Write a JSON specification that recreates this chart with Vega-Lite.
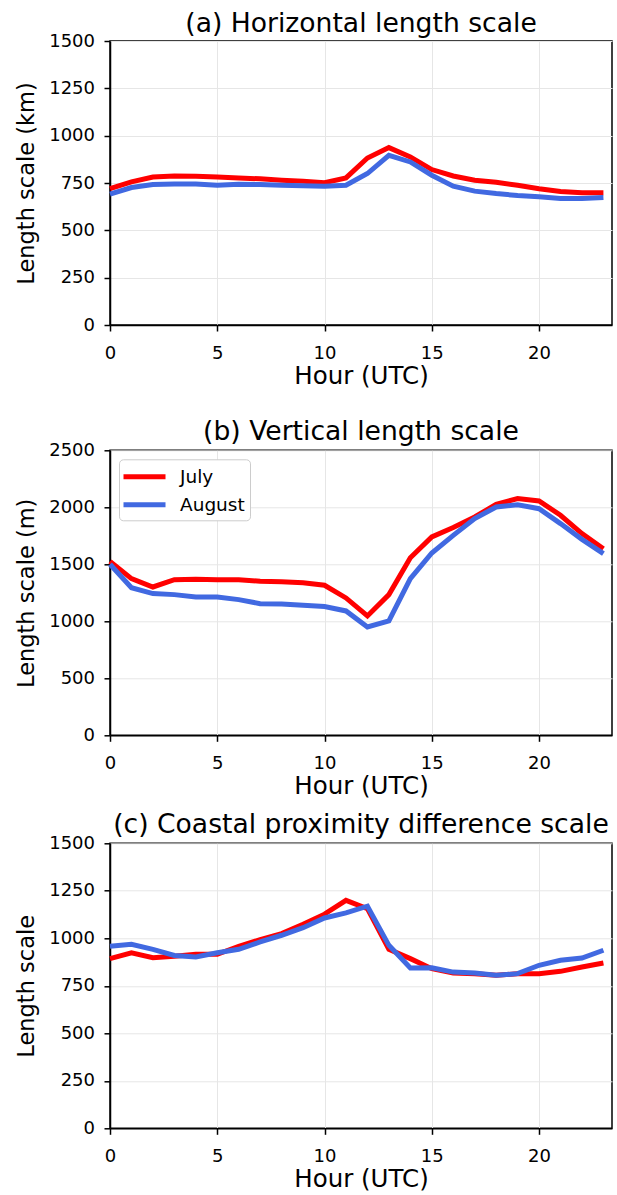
{
  "$schema": "https://vega.github.io/schema/vega-lite/v6.json",
  "padding": {"left": 14, "top": 10, "right": 0, "bottom": 0},
  "datasets": {
    "a": [
      {"hour":0,"month":"July","value":720},{"hour":1,"month":"July","value":756},{"hour":2,"month":"July","value":782},{"hour":3,"month":"July","value":787},{"hour":4,"month":"July","value":786},{"hour":5,"month":"July","value":782},{"hour":6,"month":"July","value":777},{"hour":7,"month":"July","value":772},{"hour":8,"month":"July","value":765},{"hour":9,"month":"July","value":759},{"hour":10,"month":"July","value":752},{"hour":11,"month":"July","value":777},{"hour":12,"month":"July","value":882},{"hour":13,"month":"July","value":937},{"hour":14,"month":"July","value":888},{"hour":15,"month":"July","value":821},{"hour":16,"month":"July","value":787},{"hour":17,"month":"July","value":765},{"hour":18,"month":"July","value":754},{"hour":19,"month":"July","value":738},{"hour":20,"month":"July","value":720},{"hour":21,"month":"July","value":705},{"hour":22,"month":"July","value":698},{"hour":23,"month":"July","value":698},
      {"hour":0,"month":"August","value":691},{"hour":1,"month":"August","value":726},{"hour":2,"month":"August","value":742},{"hour":3,"month":"August","value":745},{"hour":4,"month":"August","value":745},{"hour":5,"month":"August","value":738},{"hour":6,"month":"August","value":743},{"hour":7,"month":"August","value":742},{"hour":8,"month":"August","value":738},{"hour":9,"month":"August","value":736},{"hour":10,"month":"August","value":733},{"hour":11,"month":"August","value":738},{"hour":12,"month":"August","value":800},{"hour":13,"month":"August","value":896},{"hour":14,"month":"August","value":861},{"hour":15,"month":"August","value":791},{"hour":16,"month":"August","value":733},{"hour":17,"month":"August","value":707},{"hour":18,"month":"August","value":694},{"hour":19,"month":"August","value":684},{"hour":20,"month":"August","value":677},{"hour":21,"month":"August","value":668},{"hour":22,"month":"August","value":668},{"hour":23,"month":"August","value":673}
    ],
    "b": [
      {"hour":0,"month":"July","value":1526},{"hour":1,"month":"July","value":1374},{"hour":2,"month":"July","value":1301},{"hour":3,"month":"July","value":1365},{"hour":4,"month":"July","value":1368},{"hour":5,"month":"July","value":1365},{"hour":6,"month":"July","value":1365},{"hour":7,"month":"July","value":1351},{"hour":8,"month":"July","value":1348},{"hour":9,"month":"July","value":1339},{"hour":10,"month":"July","value":1316},{"hour":11,"month":"July","value":1205},{"hour":12,"month":"July","value":1047},{"hour":13,"month":"July","value":1234},{"hour":14,"month":"July","value":1558},{"hour":15,"month":"July","value":1740},{"hour":16,"month":"July","value":1822},{"hour":17,"month":"July","value":1915},{"hour":18,"month":"July","value":2026},{"hour":19,"month":"July","value":2076},{"hour":20,"month":"July","value":2056},{"hour":21,"month":"July","value":1930},{"hour":22,"month":"July","value":1769},{"hour":23,"month":"July","value":1637},
      {"hour":0,"month":"August","value":1500},{"hour":1,"month":"August","value":1295},{"hour":2,"month":"August","value":1243},{"hour":3,"month":"August","value":1234},{"hour":4,"month":"August","value":1213},{"hour":5,"month":"August","value":1213},{"hour":6,"month":"August","value":1190},{"hour":7,"month":"August","value":1155},{"hour":8,"month":"August","value":1152},{"hour":9,"month":"August","value":1140},{"hour":10,"month":"August","value":1129},{"hour":11,"month":"August","value":1091},{"hour":12,"month":"August","value":950},{"hour":13,"month":"August","value":1003},{"hour":14,"month":"August","value":1374},{"hour":15,"month":"August","value":1599},{"hour":16,"month":"August","value":1754},{"hour":17,"month":"August","value":1901},{"hour":18,"month":"August","value":2003},{"hour":19,"month":"August","value":2023},{"hour":20,"month":"August","value":1988},{"hour":21,"month":"August","value":1857},{"hour":22,"month":"August","value":1719},{"hour":23,"month":"August","value":1594}
    ],
    "c": [
      {"hour":0,"month":"July","value":893},{"hour":1,"month":"July","value":923},{"hour":2,"month":"July","value":898},{"hour":3,"month":"July","value":905},{"hour":4,"month":"July","value":916},{"hour":5,"month":"July","value":916},{"hour":6,"month":"July","value":958},{"hour":7,"month":"July","value":993},{"hour":8,"month":"July","value":1025},{"hour":9,"month":"July","value":1074},{"hour":10,"month":"July","value":1127},{"hour":11,"month":"July","value":1200},{"hour":12,"month":"July","value":1156},{"hour":13,"month":"July","value":942},{"hour":14,"month":"July","value":893},{"hour":15,"month":"July","value":840},{"hour":16,"month":"July","value":817},{"hour":17,"month":"July","value":814},{"hour":18,"month":"July","value":805},{"hour":19,"month":"July","value":814},{"hour":20,"month":"July","value":814},{"hour":21,"month":"July","value":826},{"hour":22,"month":"July","value":849},{"hour":23,"month":"July","value":870},
      {"hour":0,"month":"August","value":958},{"hour":1,"month":"August","value":968},{"hour":2,"month":"August","value":942},{"hour":3,"month":"August","value":910},{"hour":4,"month":"August","value":902},{"hour":5,"month":"August","value":924},{"hour":6,"month":"August","value":942},{"hour":7,"month":"August","value":981},{"hour":8,"month":"August","value":1016},{"hour":9,"month":"August","value":1056},{"hour":10,"month":"August","value":1107},{"hour":11,"month":"August","value":1134},{"hour":12,"month":"August","value":1169},{"hour":13,"month":"August","value":963},{"hour":14,"month":"August","value":844},{"hour":15,"month":"August","value":845},{"hour":16,"month":"August","value":822},{"hour":17,"month":"August","value":817},{"hour":18,"month":"August","value":805},{"hour":19,"month":"August","value":814},{"hour":20,"month":"August","value":858},{"hour":21,"month":"August","value":884},{"hour":22,"month":"August","value":896},{"hour":23,"month":"August","value":937}
    ]
  },
  "resolve": {"scale": {"color": "independent"}, "legend": {"color": "independent"}},
  "spacing": 28.3,
  "vconcat": [
    {
      "title": {"text": "(a) Horizontal length scale", "offset": -5.7},
      "width": 502, "height": 284,
      "data": {"name": "a"},
      "mark": {"type": "line", "strokeWidth": 5},
      "encoding": {
        "x": {"field": "hour", "type": "quantitative", "scale": {"domain": [0, 23.4], "nice": false}, "axis": {"title": "Hour (UTC)", "values": [0, 5, 10, 15, 20], "format": "d"}},
        "y": {"field": "value", "type": "quantitative", "scale": {"domain": [0, 1500], "nice": false}, "axis": {"title": "Length scale (km)", "values": [0, 250, 500, 750, 1000, 1250, 1500], "format": "d"}},
        "color": {"field": "month", "type": "nominal", "scale": {"domain": ["July", "August"], "range": ["#ff0000", "#4169e1"]}, "legend": null}
      }
    },
    {
      "resolve": {"scale": {"color": "independent"}, "legend": {"color": "independent"}},
      "spacing": 11,
      "vconcat": [
        {
          "title": {"text": "(b) Vertical length scale", "offset": -4.3},
          "width": 502, "height": 285,
          "data": {"name": "b"},
          "mark": {"type": "line", "strokeWidth": 5},
          "encoding": {
            "x": {"field": "hour", "type": "quantitative", "scale": {"domain": [0, 23.4], "nice": false}, "axis": {"title": "Hour (UTC)", "values": [0, 5, 10, 15, 20], "format": "d"}},
            "y": {"field": "value", "type": "quantitative", "scale": {"domain": [0, 2500], "nice": false}, "axis": {"title": "Length scale (m)", "values": [0, 500, 1000, 1500, 2000, 2500], "format": "d"}},
            "color": {"field": "month", "type": "nominal", "scale": {"domain": ["July", "August"], "range": ["#ff0000", "#4169e1"]},
              "legend": {"title": null, "orient": "top-left", "offset": 9, "symbolType": "M-1.3,0H2.9", "symbolSize": 400, "symbolStrokeWidth": 5, "labelOffset": 31, "rowPadding": 5, "padding": 5, "fillColor": "white", "strokeColor": "#cccccc", "cornerRadius": 4, "labelFontSize": 18.5, "labelFont": "DejaVu Sans", "labelColor": "black"}}
          }
        },
        {
          "title": {"text": "(c) Coastal proximity difference scale", "offset": -4.3},
          "width": 502, "height": 285,
          "data": {"name": "c"},
          "mark": {"type": "line", "strokeWidth": 5},
          "encoding": {
            "x": {"field": "hour", "type": "quantitative", "scale": {"domain": [0, 23.4], "nice": false}, "axis": {"title": "Hour (UTC)", "values": [0, 5, 10, 15, 20], "format": "d"}},
            "y": {"field": "value", "type": "quantitative", "scale": {"domain": [0, 1500], "nice": false}, "axis": {"title": "Length scale", "values": [0, 250, 500, 750, 1000, 1250, 1500], "format": "d"}},
            "color": {"field": "month", "type": "nominal", "scale": {"domain": ["July", "August"], "range": ["#ff0000", "#4169e1"]}, "legend": null}
          }
        }
      ]
    }
  ],
  "config": {
    "font": "DejaVu Sans",
    "view": {"stroke": "black", "strokeWidth": 1.5},
    "axis": {"labelFont": "DejaVu Sans", "labelFontSize": 18, "labelColor": "black", "labelFlush": false, "titleFont": "DejaVu Sans", "titleFontWeight": "normal", "titleColor": "black", "domainColor": "black", "domainWidth": 1.5, "tickColor": "black", "tickWidth": 1.5, "tickSize": 6, "gridColor": "#e6e6e6", "gridWidth": 1},
    "axisX": {"labelPadding": 13, "titlePadding": 2.5, "titleFontSize": 24.5},
    "axisY": {"labelPadding": 9.5, "titlePadding": 10, "titleFontSize": 22.5},
    "title": {"font": "DejaVu Sans", "fontSize": 26.6, "fontWeight": "normal", "color": "black", "anchor": "middle", "frame": "group"}
  }
}
